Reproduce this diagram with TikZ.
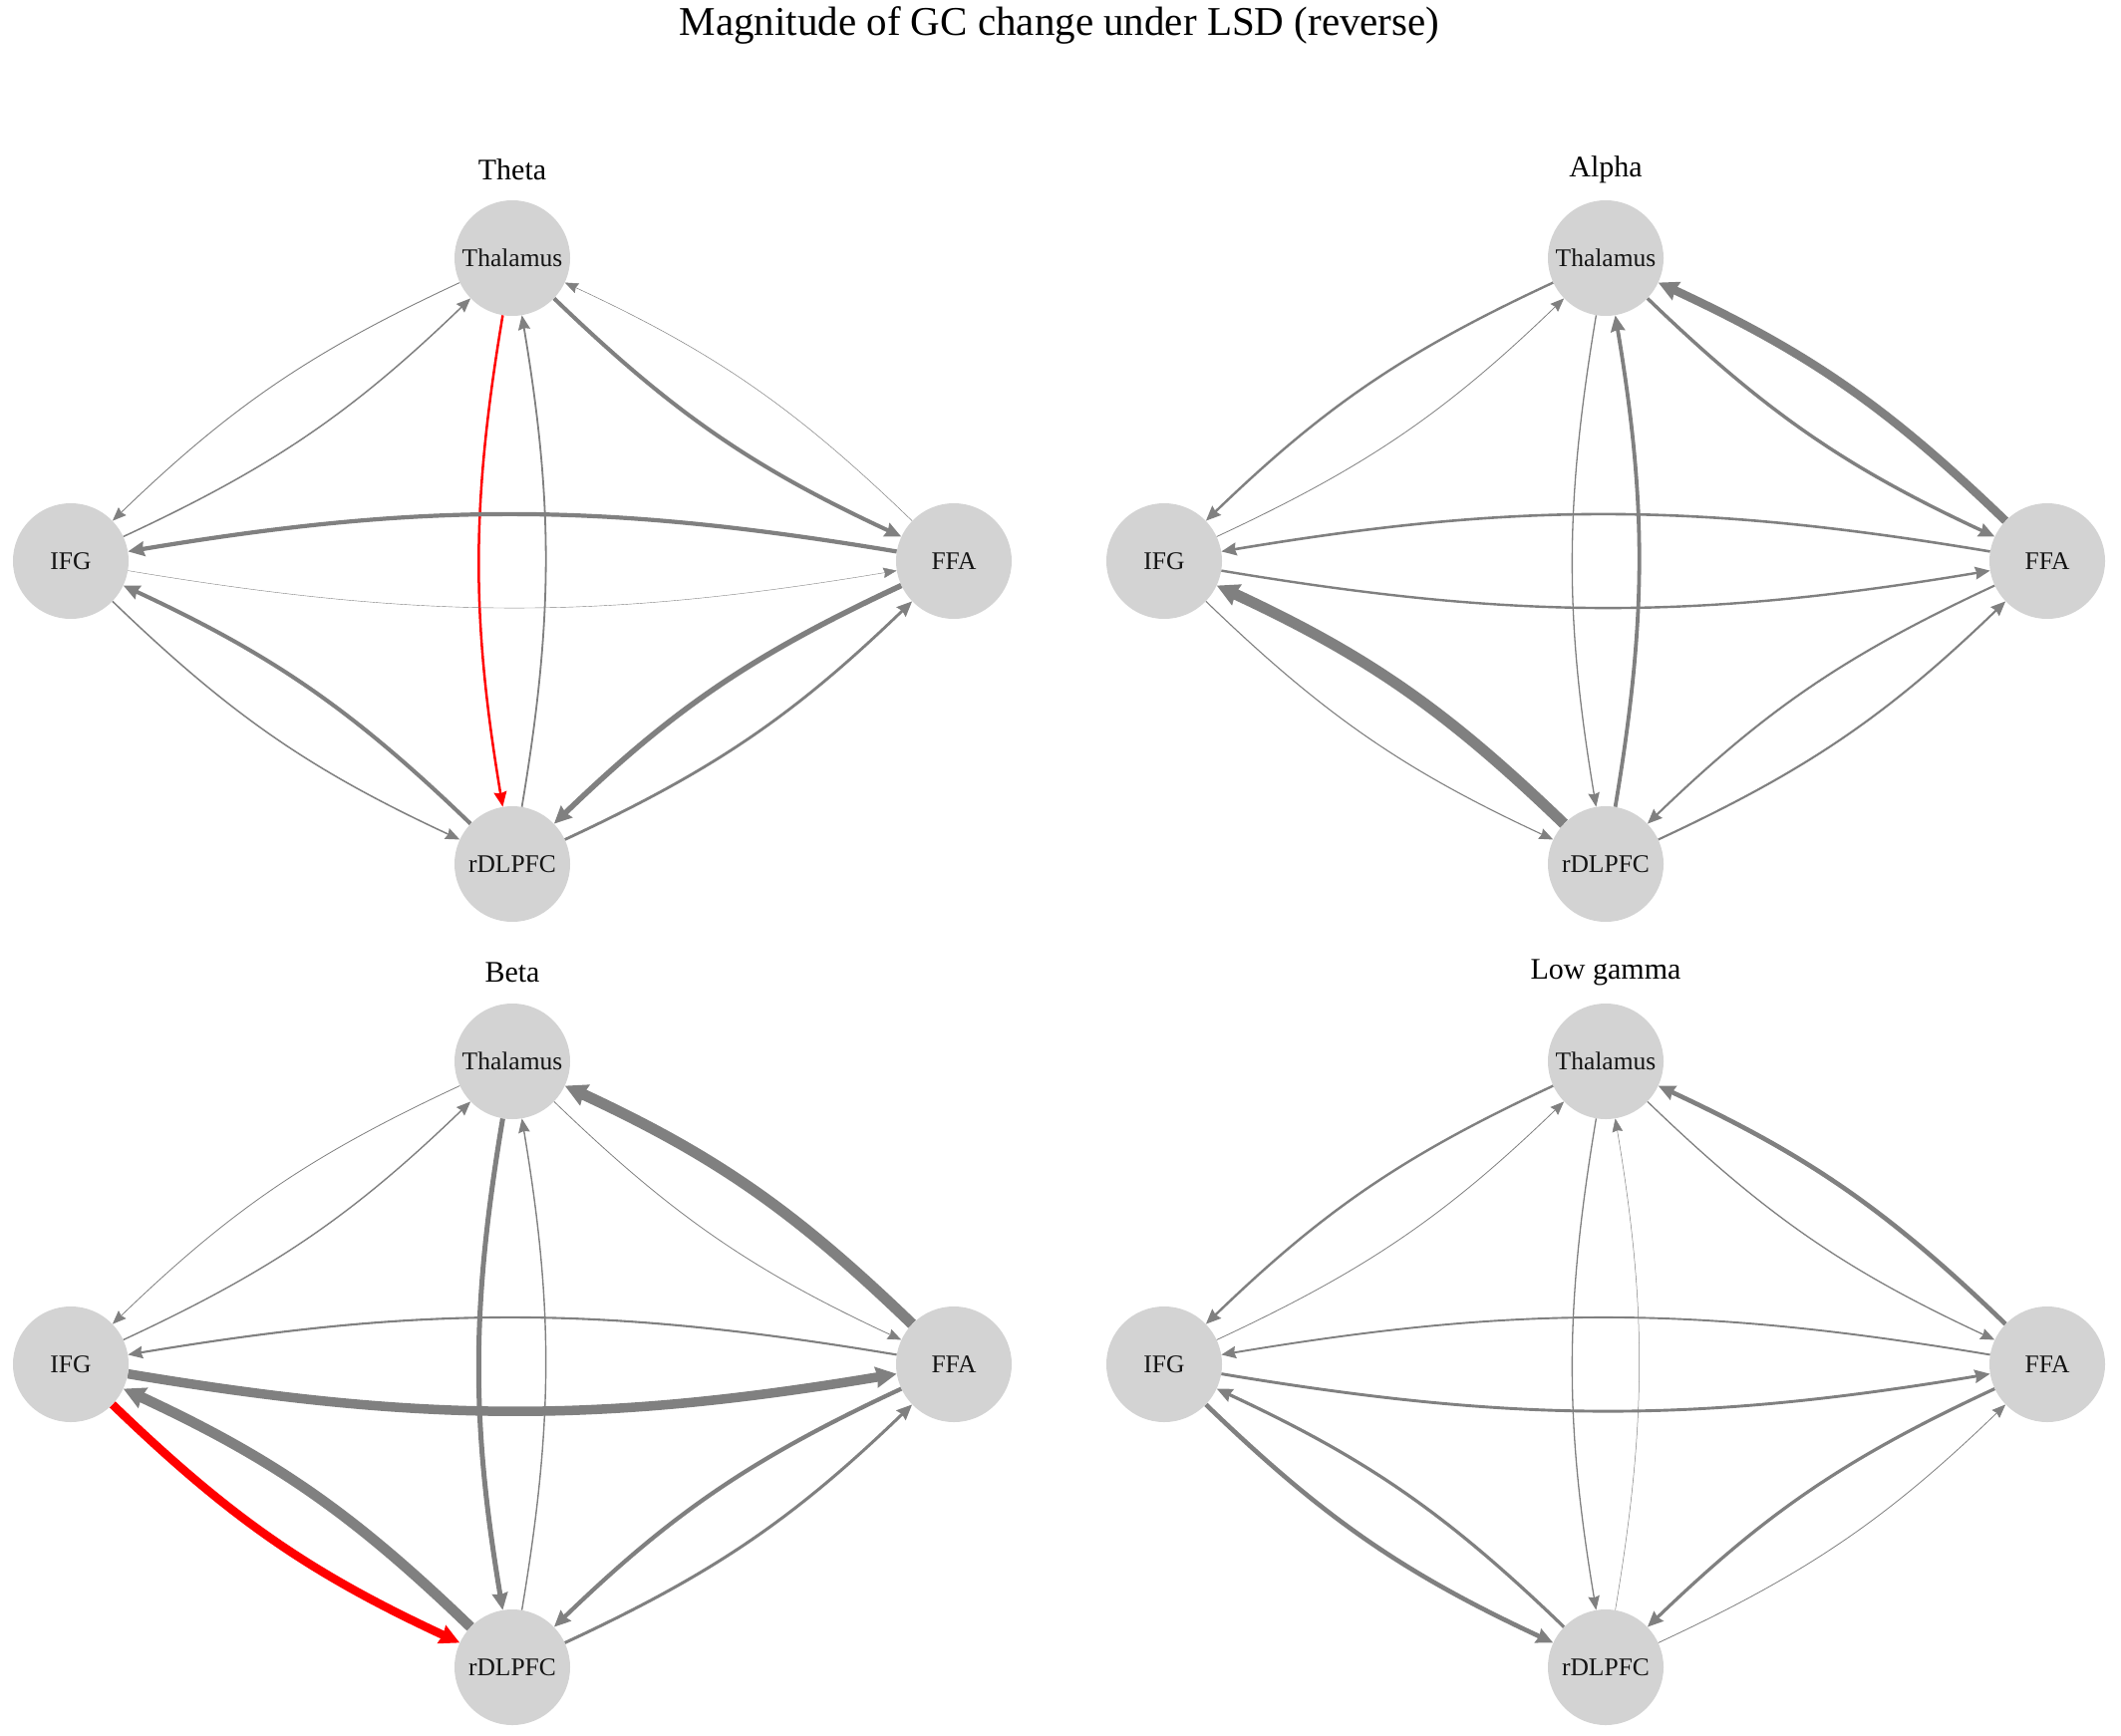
\documentclass[tikz,border=0pt]{standalone}
\usepackage{fontspec}
\setmainfont{Liberation Serif}
\usetikzlibrary{arrows.meta}
\definecolor{edgegray}{HTML}{808080}
\definecolor{nodegray}{HTML}{D3D3D3}
\definecolor{lbl}{HTML}{141414}
\tikzset{
  brain/.style={circle, fill=nodegray, minimum size=116pt, inner sep=0pt, text=lbl,
    font=\fontsize{25.5}{25.5}\selectfont},
  ptitle/.style={text=black, font=\fontsize{30}{30}\selectfont, inner sep=0pt},
  edg/.style={draw=edgegray, line width=#1pt,
    -{Stealth[length=13pt 0.8, width=10pt 1.1, inset=1.5pt]}, bend right=9.5},
  redg/.style={edg=#1, draw=red},
}
\newcommand\mkpanel[4]{%
  \node[brain] (T#1) at (#2, -#3) {Thalamus};
  \node[brain] (I#1) at ({#2-443}, {-#3-304}) {IFG};
  \node[brain] (F#1) at ({#2+443}, {-#3-304}) {FFA};
  \node[brain] (R#1) at (#2, {-#3-608}) {rDLPFC};
  \node[ptitle] (P#1) at (#2, {-#3+89}) {#4};
}
\begin{document}
\begin{tikzpicture}[x=1pt, y=1pt]
\useasboundingbox[fill=white] (0,0) rectangle (2128,-1742);
\node[text=black, font=\fontsize{41}{41}\selectfont, inner sep=0pt] (main) at (1063,-25)
  {Magnitude of GC change under LSD (reverse)};

\mkpanel{a}{514}{259}{Theta}
\mkpanel{b}{1611}{259}{Alpha}
\mkpanel{c}{514}{1065}{Beta}
\mkpanel{d}{1611}{1065}{Low gamma}

% Theta
\draw[edg=0.9] (Ta) to (Ia);
\draw[edg=1.5] (Ia) to (Ta);
\draw[edg=4.0] (Ta) to (Fa);
\draw[edg=0.5] (Fa) to (Ta);
\draw[redg=2.5] (Ta) to (Ra);
\draw[edg=1.8] (Ra) to (Ta);
\draw[edg=4.2] (Fa) to (Ia);
\draw[edg=0.4] (Ia) to (Fa);
\draw[edg=1.5] (Ia) to (Ra);
\draw[edg=4.0] (Ra) to (Ia);
\draw[edg=5.5] (Fa) to (Ra);
\draw[edg=2.8] (Ra) to (Fa);

% Alpha
\draw[edg=2.4] (Tb) to (Ib);
\draw[edg=0.8] (Ib) to (Tb);
\draw[edg=3.4] (Tb) to (Fb);
\draw[edg=8.5] (Fb) to (Tb);
\draw[edg=1.3] (Tb) to (Rb);
\draw[edg=3.8] (Rb) to (Tb);
\draw[edg=2.6] (Fb) to (Ib);
\draw[edg=2.4] (Ib) to (Fb);
\draw[edg=1.1] (Ib) to (Rb);
\draw[edg=11] (Rb) to (Ib);
\draw[edg=2.1] (Fb) to (Rb);
\draw[edg=2.1] (Rb) to (Fb);

% Beta
\draw[edg=0.8] (Tc) to (Ic);
\draw[edg=1.4] (Ic) to (Tc);
\draw[edg=0.8] (Tc) to (Fc);
\draw[edg=11] (Fc) to (Tc);
\draw[edg=5.0] (Tc) to (Rc);
\draw[edg=1.4] (Rc) to (Tc);
\draw[edg=2.1] (Fc) to (Ic);
\draw[edg=9.5] (Ic) to (Fc);
\draw[redg=8.5] (Ic) to (Rc);
\draw[edg=10.5] (Rc) to (Ic);
\draw[edg=4.2] (Fc) to (Rc);
\draw[edg=3.0] (Rc) to (Fc);

% Low gamma
\draw[edg=2.4] (Td) to (Id);
\draw[edg=0.8] (Id) to (Td);
\draw[edg=1.3] (Td) to (Fd);
\draw[edg=4.6] (Fd) to (Td);
\draw[edg=1.3] (Td) to (Rd);
\draw[edg=0.5] (Rd) to (Td);
\draw[edg=1.9] (Fd) to (Id);
\draw[edg=2.9] (Id) to (Fd);
\draw[edg=4.6] (Id) to (Rd);
\draw[edg=3.2] (Rd) to (Id);
\draw[edg=3.2] (Fd) to (Rd);
\draw[edg=0.8] (Rd) to (Fd);
\end{tikzpicture}
\end{document}
